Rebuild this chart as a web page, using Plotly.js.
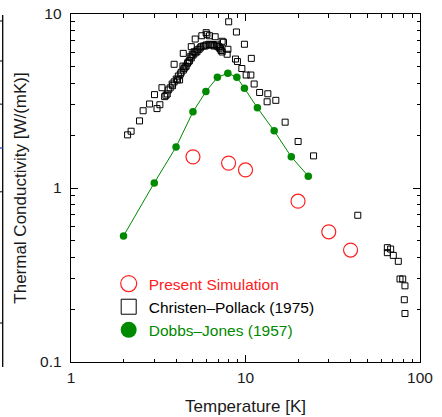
<!DOCTYPE html>
<html>
<head>
<meta charset="utf-8">
<script src="https://cdn.plot.ly/plotly-3.0.1.min.js"></script>
<style>html,body{margin:0;padding:0;background:#fff;}#chart{width:442px;height:417px;}</style>
</head>
<body>
<div id="chart"></div>
<script>
// Present Simulation
const simT = [5, 8, 10, 20, 30, 40];
const simK = [1.51, 1.39, 1.27, 0.84, 0.56, 0.44];

// Dobbs-Jones (1957)
const djT = [2, 3, 4, 5, 5.93, 6.9, 7.92, 8.92, 9.86, 11.7, 14.6, 18.3, 22.9];
const djK = [0.53, 1.07, 1.72, 2.74, 3.58, 4.33, 4.56, 4.33, 3.74, 2.89, 2.13, 1.51, 1.17];

// Christen-Pollack (1975)
const cpT = [2.11,2.21,2.47,2.59,2.82,3.11,3.23,3.01,3.32,3.44,3.50,3.56,3.61,3.70,3.82,3.80,3.90,4.01,4.08,4.19,4.12,4.23,3.90,4.28,4.40,4.38,4.45,4.51,4.57,4.65,4.70,4.78,4.82,4.89,4.95,5.01,5.08,5.15,5.27,5.29,5.41,5.50,5.57,5.74,5.87,5.95,6.17,6.28,6.42,6.53,6.61,6.85,6.88,7.04,7.07,7.19,7.25,7.35,
  4.40,4.89,5.15,5.62,5.95,6.01,6.22,6.70,7.35,7.48,7.93,7.85,
  8.01,8.87,9.86,8.76,8.99,9.53,10.09,10.73,10.80,11.21,12.05,13.43,13.30,14.92,16.87,20.02,24.55,44.0,65.0,67.9,65.0,70.3,75.1,76.8,79.6,82.0,81.3,82.0];
const cpK = [2.02,2.12,2.43,2.78,3.04,2.86,3.01,3.44,3.77,3.35,3.41,3.47,3.66,3.76,3.87,3.96,4.07,4.23,4.18,4.18,4.40,4.52,5.14,4.62,4.76,5.02,4.87,4.96,5.02,5.21,5.30,5.39,5.68,5.59,5.87,5.81,6.07,5.97,6.07,6.21,6.27,6.38,6.49,6.55,6.55,6.64,6.70,6.64,6.64,6.68,6.55,6.55,6.64,6.49,6.38,6.29,6.17,6.05,
  5.94,6.49,7.18,7.50,7.81,7.64,7.50,7.40,6.97,6.88,6.27,5.87,
  9.02,7.88,6.70,5.51,5.33,4.86,4.46,4.46,5.56,3.96,3.54,3.48,3.13,3.19,2.39,1.85,1.53,0.697,0.454,0.446,0.425,0.410,0.379,0.300,0.300,0.274,0.228,0.190];

// Axis ticks
const majorTicks = [1, 10, 100];
const majorTicksY = [0.1, 1, 10];
const minorTicksX = [2,3,4,5,6,7,8,9,20,30,40,50,60,70,80,90];
const minorTicksY = [0.2,0.3,0.4,0.5,0.6,0.7,0.8,0.9,2,3,4,5,6,7,8,9];

const legendNames = ['Present Simulation', 'Christen\u2013Pollack (1975)', 'Dobbs\u2013Jones (1957)'];

const RED = '#ff2020', GREEN = '#008a00', BLACK = '#000000';
const FONT = 'Arial, "Liberation Sans", sans-serif';

const traces = [
  {x: cpT, y: cpK, mode: 'markers', type: 'scatter', showlegend: false,
   marker: {symbol: 'square-open', size: 6, color: BLACK, line: {width: 1, color: BLACK}}},
  {x: djT, y: djK, mode: 'lines+markers', type: 'scatter', showlegend: false,
   line: {color: GREEN, width: 1},
   marker: {symbol: 'circle', size: 7.5, color: GREEN}},
  {x: simT, y: simK, mode: 'markers', type: 'scatter', showlegend: false,
   marker: {symbol: 'circle-open', size: 14, color: RED, line: {width: 1.2, color: RED}}},
  // legend entries
  {x: [null], y: [null], mode: 'markers', type: 'scatter', name: '<span style="color:' + RED + '">' + legendNames[0] + '</span>',
   marker: {symbol: 'circle-open', size: 16, color: RED, line: {width: 1.2, color: RED}}},
  {x: [null], y: [null], mode: 'markers', type: 'scatter', name: '<span style="color:' + BLACK + '">' + legendNames[1] + '</span>',
   marker: {symbol: 'square-open', size: 15, color: BLACK, line: {width: 1, color: BLACK}}},
  {x: [null], y: [null], mode: 'markers', type: 'scatter', name: '<span style="color:' + GREEN + '">' + legendNames[2] + '</span>',
   marker: {symbol: 'circle', size: 16, color: GREEN}}
];

const axisCommon = {
  type: 'log', showgrid: false, zeroline: false,
  showline: true, linecolor: '#000', linewidth: 1.3, mirror: 'allticks',
  ticks: 'inside', ticklen: 7, tickwidth: 1, tickcolor: '#000',
  tickfont: {family: FONT, size: 15.5, color: '#1a1a1a'},
  tickmode: 'array',
  minor: {tickmode: 'array', ticks: 'inside', ticklen: 3.5, tickwidth: 1, tickcolor: '#000', showgrid: false}
};

const layout = {
  width: 442, height: 417,
  margin: {l: 71, r: 22, t: 14, b: 55, pad: 0},
  paper_bgcolor: '#fff', plot_bgcolor: '#fff',
  font: {family: FONT, color: '#1a1a1a'},
  xaxis: Object.assign({}, axisCommon, {
    range: [0, 2], tickvals: majorTicks, ticktext: majorTicks.map(String),
    ticklabelstandoff: 1,
    minor: Object.assign({}, axisCommon.minor, {tickvals: minorTicksX}),
    title: {text: 'Temperature [K]', font: {family: FONT, size: 17, color: '#1a1a1a'}, standoff: 15}
  }),
  yaxis: Object.assign({}, axisCommon, {
    range: [-1, 1], tickvals: majorTicksY, ticktext: majorTicksY.map(String),
    ticklabelstandoff: 5,
    minor: Object.assign({}, axisCommon.minor, {tickvals: minorTicksY}),
    title: {text: 'Thermal Conductivity [W/(mK)]', font: {family: FONT, size: 17, color: '#1a1a1a'}, standoff: 9}
  }),
  showlegend: true,
  legend: {x: 0.108, y: 0.273, xanchor: 'left', yanchor: 'top',
    bgcolor: 'rgba(0,0,0,0)', borderwidth: 0,
    font: {family: FONT, size: 15.5}, itemsizing: 'trace'},
  shapes: [
    // edge of neighbouring panel
    {type: 'line', xref: 'paper', yref: 'paper', x0: -0.1957, x1: -0.1957, y0: 0.997, y1: -0.0144, line: {color: '#000', width: 1.3}},
    {type: 'line', xref: 'paper', yref: 'paper', x0: -0.2035, x1: -0.1957, y0: 0.98, y1: 0.98, line: {color: '#000', width: 1}},
    {type: 'line', xref: 'paper', yref: 'paper', x0: -0.2035, x1: -0.1957, y0: 0.865, y1: 0.865, line: {color: '#000', width: 1}},
    {type: 'line', xref: 'paper', yref: 'paper', x0: -0.2035, x1: -0.1957, y0: 0.741, y1: 0.741, line: {color: '#000', width: 1}},
    {type: 'line', xref: 'paper', yref: 'paper', x0: -0.2035, x1: -0.1957, y0: 0.489, y1: 0.489, line: {color: '#000', width: 1}},
    {type: 'line', xref: 'paper', yref: 'paper', x0: -0.2035, x1: -0.1957, y0: 0.112, y1: 0.112, line: {color: '#000', width: 1}},
    {type: 'line', xref: 'paper', yref: 'paper', x0: -0.2035, x1: -0.1957, y0: 0.615, y1: 0.615, line: {color: '#3344cc', width: 1.3}}
  ]
};

Plotly.newPlot('chart', traces, layout, {staticPlot: true, displayModeBar: false});
</script>
</body>
</html>
